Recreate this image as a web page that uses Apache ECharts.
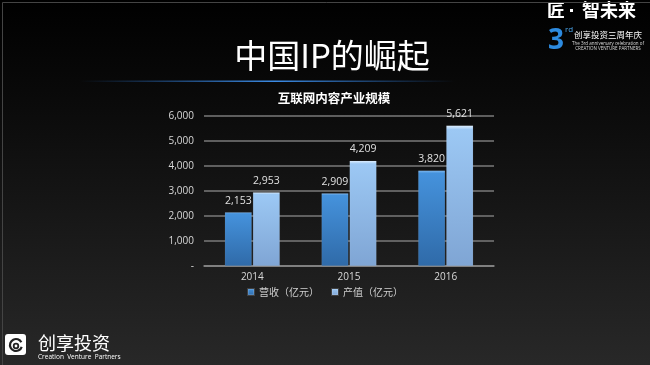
<!DOCTYPE html>
<html><head><meta charset="utf-8">
<script src="https://cdn.jsdelivr.net/npm/echarts@6/dist/echarts.min.js"></script>
<style>html,body{margin:0;padding:0;background:#000}#c{width:650px;height:365px}</style>
</head><body><div id="c"></div>
<script>
const categories = ['2014', '2015', '2016'];
const revenue = [2153, 2909, 3820];
const output = [2953, 4209, 5621];
const seriesNames = ['营收（亿元）', '产值（亿元）'];
const yTicks = [0, 1000, 2000, 3000, 4000, 5000, 6000];

const cjk = '"Noto Sans CJK SC", sans-serif';
const lat = '"Open Sans", "Liberation Sans", sans-serif';
const chart = echarts.init(document.getElementById('c'));
chart.setOption({
  backgroundColor: new echarts.graphic.LinearGradient(0, 0, 0, 1, [
    {offset: 0, color: '#000000'}, {offset: 0.3, color: '#0b0b0b'}, {offset: 1, color: '#282828'}]),
  animation: false,
  grid: {left: 204, right: 156, top: 116, bottom: 99},
  xAxis: {
    type: 'category', data: categories,
    axisLine: {lineStyle: {color: '#8a8a8a', width: 1.5}},
    axisTick: {show: false},
    axisLabel: {color: '#d8d8d8', fontSize: 10, fontFamily: lat, margin: 6}
  },
  yAxis: {
    type: 'value', min: yTicks[0], max: yTicks[yTicks.length - 1], interval: 1000,
    axisLine: {show: false}, axisTick: {show: false},
    splitLine: {lineStyle: {color: '#7a7a7a', width: 1.5}},
    axisLabel: {color: '#d8d8d8', fontSize: 10, fontFamily: lat, margin: 10,
      formatter: v => v === 0 ? '-' : v.toLocaleString('en-US')}
  },
  legend: {
    data: seriesNames, bottom: 63, left: 'center', itemWidth: 6, itemHeight: 6, itemGap: 12,
    icon: 'rect',
    textStyle: {color: '#d0d0d0', fontSize: 10, fontFamily: cjk}
  },
  series: [
    {name: seriesNames[0], type: 'bar', data: revenue, barWidth: 27, barGap: '4%',
     itemStyle: {color: new echarts.graphic.LinearGradient(0, 0, 0, 1, [
       {offset: 0, color: '#7db8f0'}, {offset: 0.03, color: '#4592dc'}, {offset: 1, color: '#2f6aa8'}]),
       borderColor: 'rgba(255,255,255,0.15)', borderWidth: 0.5},
     label: {show: true, position: 'top', color: '#e0e0e0', fontSize: 10.5, fontFamily: lat, distance: 6,
       formatter: p => p.value.toLocaleString('en-US')}},
    {name: seriesNames[1], type: 'bar', data: output, barWidth: 27,
     itemStyle: {color: new echarts.graphic.LinearGradient(0, 0, 0, 1, [
       {offset: 0, color: '#e0f0ff'}, {offset: 0.03, color: '#9cc8f4'}, {offset: 1, color: '#7fa5d4'}]),
       borderColor: 'rgba(255,255,255,0.15)', borderWidth: 0.5},
     label: {show: true, position: 'top', color: '#e0e0e0', fontSize: 10.5, fontFamily: lat, distance: 6,
       formatter: p => p.value.toLocaleString('en-US')}}
  ],
  graphic: [
    {type: 'rect', left: 0, top: 0, shape: {width: 649, height: 364},
     style: {fill: 'none', stroke: '#444', lineWidth: 1}, silent: true, z: 100},
    {type: 'text', x: 332, y: 55, style: {text: '中国IP的崛起', fill: '#ffffff', font: '400 33px ' + cjk,
      textAlign: 'center', textVerticalAlign: 'middle'}},
    {type: 'rect', shape: {x: 80, y: 80.5, width: 375, height: 1.5},
     style: {fill: new echarts.graphic.LinearGradient(0, 0, 1, 0, [
       {offset: 0, color: 'rgba(40,110,200,0)'}, {offset: 0.52, color: 'rgba(60,140,230,1)'},
       {offset: 1, color: 'rgba(40,110,200,0)'}])}},
    {type: 'text', x: 334, y: 98, style: {text: '互联网内容产业规模', fill: '#ffffff', font: 'bold 12.5px ' + cjk,
      textAlign: 'center', textVerticalAlign: 'middle'}},
    // top-right logo
    {type: 'text', x: 556, y: 10, style: {text: '匠', fill: '#ffffff', font: 'bold 18px ' + cjk,
      textAlign: 'center', textVerticalAlign: 'middle'}},
    {type: 'rect', shape: {x: 570, y: 9, width: 3, height: 3}, style: {fill: '#ffffff'}},
    {type: 'text', x: 609, y: 10, style: {text: '智未来', fill: '#ffffff', font: 'bold 18px ' + cjk,
      textAlign: 'center', textVerticalAlign: 'middle'}},
    {type: 'text', x: 556, y: 41, style: {text: '3', font: 'bold 28px ' + lat, fill: '#2d8be0',
      textAlign: 'center', textVerticalAlign: 'middle'}},
    {type: 'text', x: 569, y: 30, style: {text: 'rd', fill: '#4aa3e8', font: '8px ' + lat,
      textAlign: 'center', textVerticalAlign: 'middle'}},
    {type: 'text', x: 608, y: 35, style: {text: '创享投资三周年庆', fill: '#ffffff', font: '8.5px ' + cjk,
      textAlign: 'center', textVerticalAlign: 'middle'}},
    {type: 'text', x: 608, y: 43.5, style: {text: 'The 3rd anniversary celebration of', fill: '#dddddd', font: '4.5px ' + lat,
      textAlign: 'center', textVerticalAlign: 'middle'}},
    {type: 'text', x: 608, y: 48.5, style: {text: 'CREATION VENTURE PARTNERS', fill: '#dddddd', font: '4.5px ' + lat,
      textAlign: 'center', textVerticalAlign: 'middle'}},
    // bottom-left logo
    {type: 'rect', shape: {x: 5, y: 334, width: 21, height: 21, r: 3}, style: {fill: '#ffffff'}},
    {type: 'arc', shape: {cx: 16, cy: 345, r: 6, startAngle: Math.PI * 0.1, endAngle: Math.PI * 1.85},
     style: {stroke: '#222', lineWidth: 2.2, fill: 'none'}},
    {type: 'arc', shape: {cx: 16, cy: 346, r: 2.3, startAngle: 0, endAngle: Math.PI * 2},
     style: {stroke: '#222', lineWidth: 1.8, fill: 'none'}},
    {type: 'text', x: 38, y: 343, style: {text: '创享投资', fill: '#ffffff', font: '18px ' + cjk,
      textVerticalAlign: 'middle'}},
    {type: 'text', x: 38, y: 357.5, style: {text: 'Creation  Venture  Partners', fill: '#ffffff', font: '6.5px ' + lat,
      textVerticalAlign: 'middle'}}
  ]
});
</script></body></html>
